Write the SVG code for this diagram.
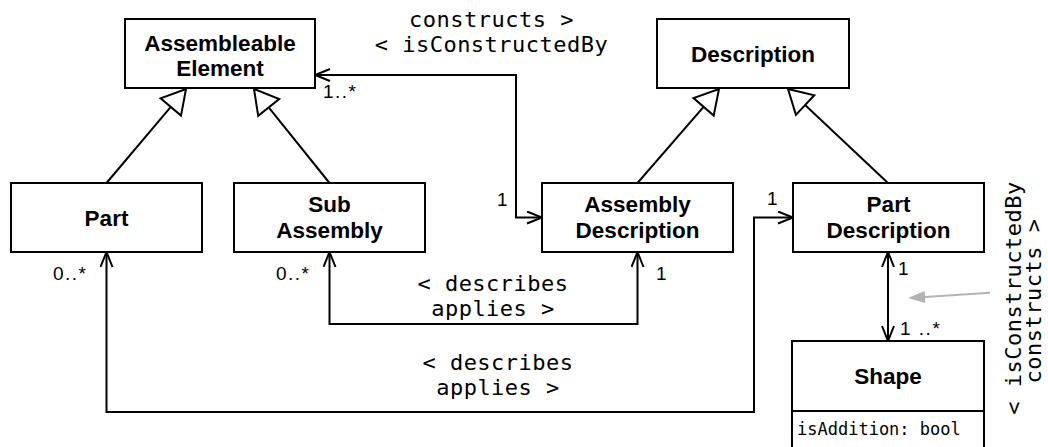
<svg xmlns="http://www.w3.org/2000/svg" width="1048" height="447" viewBox="0 0 1048 447">
  <style>
    .box { fill: #fff; stroke: #000; stroke-width: 2; }
    .name { font-family: "Liberation Sans", Arial, sans-serif; font-weight: bold; font-size: 22.5px; text-anchor: middle; fill: #000; }
    .attr { font-family: "DejaVu Sans Mono", monospace; font-size: 17px; fill: #000; }
    .role { font-family: "DejaVu Sans Mono", monospace; font-size: 22px; letter-spacing: 0.5px; text-anchor: middle; fill: #000; }
    .mult { font-family: "Liberation Sans", Arial, sans-serif; font-size: 19px; letter-spacing: 1.5px; fill: #000; }
    .link { fill: none; stroke: #000; stroke-width: 2; marker-start: url(#open); marker-end: url(#open); }
    .gen { fill: none; stroke: #000; stroke-width: 2; }
    .tri { fill: #fff; stroke: #000; stroke-width: 2; stroke-linejoin: miter; }
  </style>
  <defs>
    <marker id="open" viewBox="0 0 18 14" refX="16" refY="7" markerWidth="18" markerHeight="14" markerUnits="userSpaceOnUse" orient="auto-start-reverse">
      <path d="M1,1 L16,7 L1,13" fill="none" stroke="#000" stroke-width="2"/>
    </marker>
  </defs>

  <rect width="1048" height="447" fill="#fff"/>

  <!-- associations -->
  <g id="connectors">
    <path class="link" d="M542 217.5 H516 V75 H315"/>
    <path class="link" d="M329.5 252 V324 H637.5 V252"/>
    <path class="link" d="M106.5 252 V412 H754 V217.5 H793"/>
    <path class="link" d="M888 252 V341"/>

    <!-- generalisations -->
    <line class="gen" x1="106.5" y1="183" x2="170.8" y2="106.9"/>
    <polygon class="tri" points="186,89 181,115.6 160.6,98.3"/>
    <line class="gen" x1="329.5" y1="183" x2="268.7" y2="107.4"/>
    <polygon class="tri" points="254,89 279.2,99 258.2,115.8"/>
    <line class="gen" x1="637.5" y1="183" x2="703.6" y2="106.8"/>
    <polygon class="tri" points="719,89 713.7,115.6 693.5,98"/>
    <line class="gen" x1="888" y1="183" x2="805.1" y2="105.1"/>
    <polygon class="tri" points="788,89 814.3,95.3 795.9,114.9"/>

    <!-- reading direction hint -->
    <line x1="990" y1="292.7" x2="925" y2="296.9" stroke="#b3b3b3" stroke-width="2"/>
    <polygon points="908,298 925.4,302.9 924.6,290.9" fill="#b3b3b3"/>

    <!-- role names -->
    <text class="role" x="491.5" y="27">constructs &gt;</text>
    <text class="role" x="491.5" y="52">&lt; isConstructedBy</text>
    <text class="role" x="493" y="291">&lt; describes</text>
    <text class="role" x="493" y="316">applies &gt;</text>
    <text class="role" x="498" y="370">&lt; describes</text>
    <text class="role" x="498" y="395">applies &gt;</text>
    <text class="role" transform="translate(1021 298) rotate(-90)">&lt; isConstructedBy</text>
    <text class="role" transform="translate(1041 301) rotate(-90)">constructs &gt;</text>

    <!-- multiplicities -->
    <text class="mult" x="323" y="98">1..*</text>
    <text class="mult" x="497" y="206">1</text>
    <text class="mult" x="53" y="280">0..*</text>
    <text class="mult" x="276" y="280">0..*</text>
    <text class="mult" x="656" y="280">1</text>
    <text class="mult" x="767" y="205">1</text>
    <text class="mult" x="898" y="275">1</text>
    <text class="mult" x="900" y="335">1 ..*</text>
  </g>

  <g id="assembleable-element">
    <rect class="box" x="125" y="19" width="190" height="69"/>
    <text class="name" x="220" y="50.5">Assembleable</text>
    <text class="name" x="220" y="76">Element</text>
  </g>
  <g id="description">
    <rect class="box" x="657" y="19" width="192" height="69"/>
    <text class="name" x="753" y="62">Description</text>
  </g>
  <g id="part">
    <rect class="box" x="11" y="183" width="191" height="69"/>
    <text class="name" x="106.5" y="225.5">Part</text>
  </g>
  <g id="sub-assembly">
    <rect class="box" x="234" y="183" width="191" height="69"/>
    <text class="name" x="329.5" y="212">Sub</text>
    <text class="name" x="329.5" y="238">Assembly</text>
  </g>
  <g id="assembly-description">
    <rect class="box" x="542" y="183" width="191" height="69"/>
    <text class="name" x="637.5" y="212">Assembly</text>
    <text class="name" x="637.5" y="238">Description</text>
  </g>
  <g id="part-description">
    <rect class="box" x="793" y="183" width="191" height="69"/>
    <text class="name" x="888.5" y="212">Part</text>
    <text class="name" x="888.5" y="238">Description</text>
  </g>
  <g id="shape">
    <rect class="box" x="792" y="341" width="192" height="120"/>
    <line x1="792" y1="411" x2="984" y2="411" stroke="#000" stroke-width="2"/>
    <text class="name" x="888" y="384">Shape</text>
    <text class="attr" x="797" y="435">isAddition: bool</text>
  </g>
</svg>
